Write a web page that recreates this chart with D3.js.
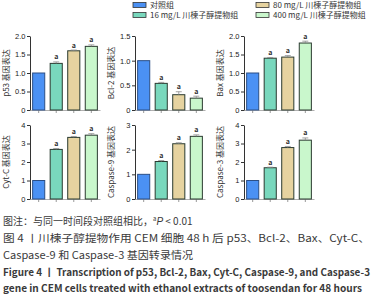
<!DOCTYPE html>
<html>
<head>
<meta charset="utf-8">
<script src="https://cdn.jsdelivr.net/npm/d3@7"></script>
<style>
  body { margin: 0; background: #fff; }
  svg { display: block; font-family: "Noto Sans CJK SC", "Noto Sans", sans-serif; }
  .y-axis text { font-family: "Liberation Sans", Arial, sans-serif; }
</style>
</head>
<body>
<div id="wrapper"></div>
<script>
// 1. Data
const groups = ["对照组", "16 mg/L 川楝子醇提物组", "80 mg/L 川楝子醇提物组", "400 mg/L 川楝子醇提物组"]
const barColors = ["#4b91f4", "#79d8bd", "#e6d3a0", "#c9f7cc"]
const genes = ["p53", "Bcl-2", "Bax", "Cyt-C", "Caspase-9", "Caspase-3"]

const p53Values = [1.0, 1.26, 1.6, 1.72]
const p53Errors = [0, 0.04, 0.02, 0.04]
const bcl2Values = [1.0, 0.54, 0.31, 0.24]
const bcl2Errors = [0, 0.02, 0.06, 0.04]
const baxValues = [1.0, 1.4, 1.43, 1.81]
const baxErrors = [0, 0.02, 0.04, 0.05]
const cytcValues = [1.0, 2.68, 3.33, 3.45]
const cytcErrors = [0, 0.05, 0.05, 0.08]
const cas9Values = [1.0, 1.52, 2.24, 2.54]
const cas9Errors = [0, 0.04, 0.04, 0.06]
const cas3Values = [1.0, 1.69, 2.78, 3.18]
const cas3Errors = [0, 0.03, 0.06, 0.12]

const yTickValues = [
  [0, 0.5, 1.0, 1.5, 2.0],
  [0, 0.5, 1.0, 1.5],
  [0, 0.5, 1.0, 1.5, 2.0],
  [0, 1, 2, 3, 4],
  [0, 1, 2, 3],
  [0, 1, 2, 3, 4],
]
const sigLabels = ["", "a", "a", "a"]

const captionLines = [
  "图注：与同一时间段对照组相比，",
  "图 4 丨川楝子醇提物作用 CEM 细胞 48 h 后 p53、Bcl-2、Bax、Cyt-C、",
  "Caspase-9 和 Caspase-3 基因转录情况",
  "Figure 4 丨 Transcription of p53, Bcl-2, Bax, Cyt-C, Caspase-9, and Caspase-3",
  "gene in CEM cells treated with ethanol extracts of toosendan for 48 hours",
]

const panels = [
  { values: p53Values, errors: p53Errors },
  { values: bcl2Values, errors: bcl2Errors },
  { values: baxValues, errors: baxErrors },
  { values: cytcValues, errors: cytcErrors },
  { values: cas9Values, errors: cas9Errors },
  { values: cas3Values, errors: cas3Errors },
]

function drawFigure() {

  // 2. Dimensions
  const dimensions = {
    width: 375,
    height: 298,
    colX: [30, 135, 244],
    rowTop: [36, 125],
    rowBottom: [110, 199],
    plotWidth: 70,
  }

  // 3. Canvas
  const wrapper = d3.select("#wrapper")
    .append("svg")
    .attr("width", dimensions.width)
    .attr("height", dimensions.height)

  // 4. Legend
  const legend = wrapper.append("g")
  groups.forEach((g, i) => {
    const lx = [133, 256][Math.floor(i / 2)]
    const ly = [5, 15][i % 2]
    legend.append("rect")
      .attr("x", lx).attr("y", ly - 2.5)
      .attr("width", 13).attr("height", 5)
      .attr("fill", barColors[i])
      .attr("stroke", "#333").attr("stroke-width", 0.8)
    legend.append("text")
      .attr("x", lx + 17).attr("y", ly + 3)
      .style("font-size", "8px")
      .attr("fill", "#333")
      .text(g)
  })

  // 5. Panels
  panels.forEach((panel, i) => {
    const col = i % 3
    const row = Math.floor(i / 3)
    const x0 = dimensions.colX[col]
    const ticks = yTickValues[i]

    const yScale = d3.scaleLinear()
      .domain([0, d3.max(ticks)])
      .range([dimensions.rowBottom[row], dimensions.rowTop[row]])

    const xScale = d3.scaleBand()
      .domain(groups)
      .range([x0, x0 + dimensions.plotWidth])
      .paddingInner(0.31)
      .paddingOuter(0.15)

    const bounds = wrapper.append("g")

    // x axis (light grey)
    const xAxis = bounds.append("g")
      .attr("transform", `translate(0, ${dimensions.rowBottom[row]})`)
      .call(d3.axisBottom(xScale).tickSize(3).tickSizeOuter(0).tickFormat(""))
    xAxis.select(".domain").attr("stroke", "#b0b0b0").attr("stroke-width", 1.2)
    xAxis.selectAll(".tick line").attr("stroke", "#999")

    // bars
    bounds.selectAll(".bar")
      .data(panel.values)
      .join("rect")
      .attr("class", "bar")
      .attr("x", (d, j) => xScale(groups[j]))
      .attr("y", d => yScale(d))
      .attr("width", xScale.bandwidth())
      .attr("height", d => yScale(0) - yScale(d))
      .attr("fill", (d, j) => barColors[j])
      .attr("stroke", (d, j) => j === 0 ? "#2c4f86" : "#2a3a30")
      .attr("stroke-width", 1)

    // error bars
    const errs = panel.values.map((v, j) => ({ v, e: panel.errors[j], j })).filter(d => d.e > 0)
    bounds.selectAll(".err")
      .data(errs)
      .join("path")
      .attr("class", "err")
      .attr("d", d => {
        const cx = xScale(groups[d.j]) + xScale.bandwidth() / 2
        const yt = yScale(d.v + d.e)
        return `M${cx},${yScale(d.v)}V${yt}M${cx - 3},${yt}H${cx + 3}`
      })
      .attr("stroke", "#8a8a8a")
      .attr("fill", "none")
      .attr("stroke-width", 0.8)

    // significance labels
    bounds.selectAll(".sig")
      .data(panel.values)
      .join("text")
      .attr("class", "sig")
      .attr("x", (d, j) => xScale(groups[j]) + xScale.bandwidth() / 2)
      .attr("y", (d, j) => yScale(d + panel.errors[j]) - 2.5)
      .attr("text-anchor", "middle")
      .style("font-size", "7px")
      .style("font-weight", "bold")
      .attr("fill", "#333")
      .text((d, j) => sigLabels[j])

    // y axis
    const yAxis = bounds.append("g")
      .attr("class", "y-axis")
      .attr("transform", `translate(${x0}, 0)`)
      .call(d3.axisLeft(yScale)
        .tickValues(ticks)
        .tickSize(3)
        .tickSizeOuter(0)
        .tickPadding(1.5)
        .tickFormat(d => d === 0 ? "0" : (row === 0 ? d3.format(".1f")(d) : d)))
    yAxis.select(".domain").attr("stroke", "#333")
    yAxis.selectAll(".tick line").attr("stroke", "#333")
    yAxis.selectAll(".tick text").style("font-size", "7.5px").attr("fill", "#222")

    // y label
    bounds.append("text")
      .attr("transform", `translate(${x0 - 21}, ${(dimensions.rowTop[row] + dimensions.rowBottom[row]) / 2}) rotate(-90)`)
      .attr("text-anchor", "middle")
      .style("font-size", "8px")
      .attr("fill", "#333")
      .text(`${genes[i]} 基因表达`)
  })

  // 6. Caption
  const caption = wrapper.append("g").attr("fill", "#3a3a3a")
  const baselines = [225, 242, 259, 276, 292]
  const widths = [null, 367, 190, 367, 359]

  const first = caption.append("text")
    .attr("x", 3).attr("y", baselines[0])
    .style("font-size", "10px")
  first.append("tspan").text(captionLines[0])
  first.append("tspan").attr("dy", -4).style("font-size", "6px").text("a")
  first.append("tspan").attr("dy", 4).style("font-style", "italic")
    .style("font-family", "'Liberation Sans', Arial, sans-serif").text("P")
  first.append("tspan").text(" < 0.01")

  captionLines.slice(1).forEach((line, k) => {
    const idx = k + 1
    caption.append("text")
      .attr("x", 3).attr("y", baselines[idx])
      .style("font-size", "10px")
      .style("font-weight", idx >= 3 ? "bold" : "normal")
      .attr("textLength", widths[idx])
      .attr("lengthAdjust", "spacingAndGlyphs")
      .text(line)
  })
}
drawFigure()
</script>
</body>
</html>
